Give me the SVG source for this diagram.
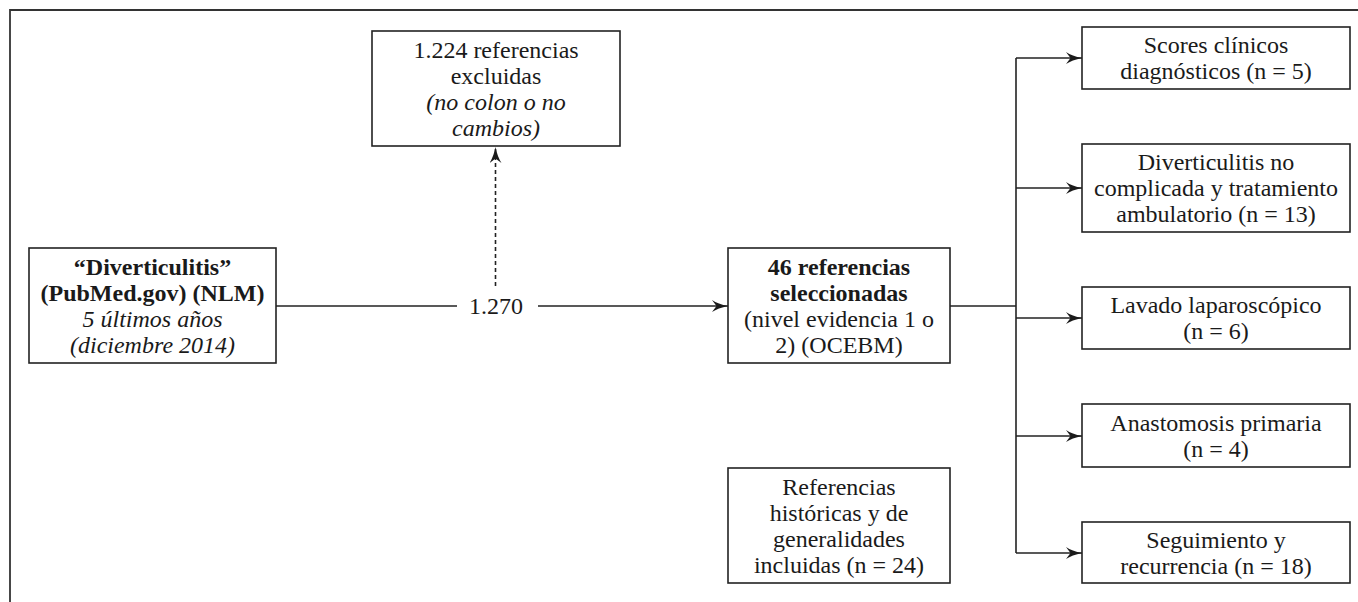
<svg xmlns="http://www.w3.org/2000/svg" width="1358" height="602" viewBox="0 0 1358 602">
<style>
.box{fill:#fff;stroke:#222;stroke-width:1.6}
.t{font-family:'Liberation Serif',Tinos,'Times New Roman',Times,serif;font-size:24px;fill:#1a1a1a;text-anchor:middle}
.b{font-weight:bold}
.i{font-style:italic}
.ln{fill:none;stroke:#222;stroke-width:1.6}
.frame{fill:none;stroke:#333;stroke-width:1.8}
</style>
<defs>
<marker id="ah" markerUnits="userSpaceOnUse" markerWidth="18" markerHeight="14" refX="16" refY="6" orient="auto">
<path d="M0,0 Q6,4 16,6 Q6,8 0,12 L4.5,6 Z" fill="#1a1a1a"/>
</marker>
</defs>
<path class="frame" d="M10,602 V10 H1358"/>
<g id="connectors">
<line class="ln" x1="276" y1="306" x2="457" y2="306"/>
<line class="ln" x1="538" y1="306" x2="728" y2="306" marker-end="url(#ah)"/>
<line class="ln" x1="495.5" y1="286" x2="495.5" y2="147" stroke-dasharray="4,3" marker-end="url(#ah)"/>
<line class="ln" x1="950" y1="306" x2="1016" y2="306"/>
<line class="ln" x1="1016" y1="58" x2="1016" y2="553"/>
<line class="ln" x1="1016" y1="58" x2="1082" y2="58" marker-end="url(#ah)"/>
<line class="ln" x1="1016" y1="188" x2="1082" y2="188" marker-end="url(#ah)"/>
<line class="ln" x1="1016" y1="318" x2="1082" y2="318" marker-end="url(#ah)"/>
<line class="ln" x1="1016" y1="436" x2="1082" y2="436" marker-end="url(#ah)"/>
<line class="ln" x1="1016" y1="553" x2="1082" y2="553" marker-end="url(#ah)"/>
<text class="t" x="496" y="314">1.270</text>
</g>
<g id="search">
<rect class="box" x="29" y="248" width="247" height="115"/>
<text class="t b" x="152.5" y="274.5">“Diverticulitis”</text>
<text class="t b" x="152.5" y="300.5">(PubMed.gov) (NLM)</text>
<text class="t i" x="152.5" y="326.5">5 últimos años</text>
<text class="t i" x="152.5" y="352.5">(diciembre 2014)</text>
</g>
<g id="excluded">
<rect class="box" x="372" y="31" width="248" height="115"/>
<text class="t" x="496" y="57.5">1.224 referencias</text>
<text class="t" x="496" y="83.5">excluidas</text>
<text class="t i" x="496" y="109.5">(no colon o no</text>
<text class="t i" x="496" y="135.5">cambios)</text>
</g>
<g id="selected">
<rect class="box" x="728" y="248" width="222" height="115"/>
<text class="t b" x="839" y="274.5">46 referencias</text>
<text class="t b" x="839" y="300.5">seleccionadas</text>
<text class="t" x="839" y="326.5">(nivel evidencia 1 o</text>
<text class="t" x="839" y="352.5">2) (OCEBM)</text>
</g>
<g id="historical">
<rect class="box" x="728" y="468" width="222" height="115"/>
<text class="t" x="839" y="494.5">Referencias</text>
<text class="t" x="839" y="520.5">históricas y de</text>
<text class="t" x="839" y="546.5">generalidades</text>
<text class="t" x="839" y="572.5">incluidas (n = 24)</text>
</g>
<g id="scores">
<rect class="box" x="1082" y="27" width="268" height="62"/>
<text class="t" x="1216" y="53">Scores clínicos</text>
<text class="t" x="1216" y="79">diagnósticos (n = 5)</text>
</g>
<g id="uncomplicated">
<rect class="box" x="1082" y="144" width="268" height="88"/>
<text class="t" x="1216" y="170">Diverticulitis no</text>
<text class="t" x="1216" y="196">complicada y tratamiento</text>
<text class="t" x="1216" y="222">ambulatorio (n = 13)</text>
</g>
<g id="lavage">
<rect class="box" x="1082" y="287" width="268" height="62"/>
<text class="t" x="1216" y="313">Lavado laparoscópico</text>
<text class="t" x="1216" y="339">(n = 6)</text>
</g>
<g id="anastomosis">
<rect class="box" x="1082" y="404" width="268" height="63"/>
<text class="t" x="1216" y="430.5">Anastomosis primaria</text>
<text class="t" x="1216" y="456.5">(n = 4)</text>
</g>
<g id="followup">
<rect class="box" x="1082" y="522" width="268" height="61"/>
<text class="t" x="1216" y="547.5">Seguimiento y</text>
<text class="t" x="1216" y="573.5">recurrencia (n = 18)</text>
</g>
</svg>
